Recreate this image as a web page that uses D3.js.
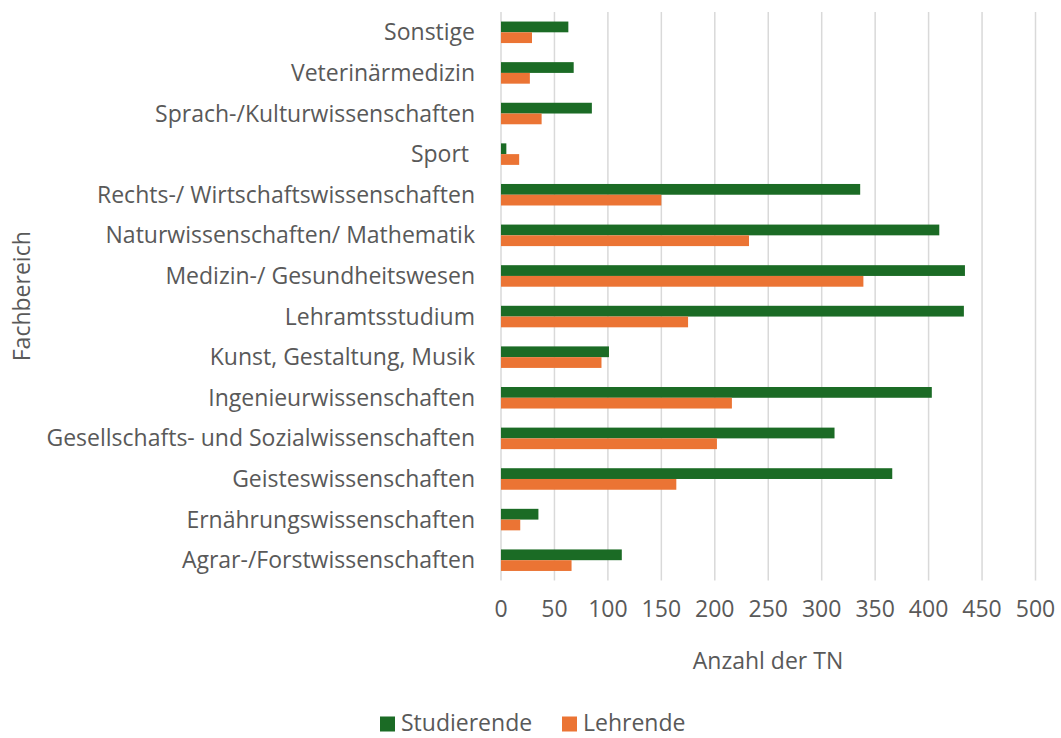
<!DOCTYPE html>
<html>
<head>
<meta charset="utf-8">
<script src="https://cdn.jsdelivr.net/npm/d3@7"></script>
<style>
  body { margin: 0; background: #fff; }
  text { font-family: "Open Sans", "Noto Sans", sans-serif; fill: #595959; white-space: pre; }
</style>
</head>
<body>
<svg id="chart" width="1061" height="738"></svg>
<script>
const categories = [
  "Sonstige",
  "Veterinärmedizin",
  "Sprach-/Kulturwissenschaften",
  "Sport ",
  "Rechts-/ Wirtschaftswissenschaften",
  "Naturwissenschaften/ Mathematik",
  "Medizin-/ Gesundheitswesen",
  "Lehramtsstudium",
  "Kunst, Gestaltung, Musik",
  "Ingenieurwissenschaften",
  "Gesellschafts- und Sozialwissenschaften",
  "Geisteswissenschaften",
  "Ernährungswissenschaften",
  "Agrar-/Forstwissenschaften"
];
const studierende = [63, 68, 85, 5, 336, 410, 434, 433, 101, 403, 312, 366, 35, 113];
const lehrende    = [29, 27, 38, 17, 150, 232, 339, 175, 94, 216, 202, 164, 18, 66];
const xTicks = [0, 50, 100, 150, 200, 250, 300, 350, 400, 450, 500];
const seriesNames = ["Studierende", "Lehrende"];
const seriesColors = ["#1b6b25", "#eb7434"];

const svg = d3.select("svg#chart");
const plotLeft = 501, plotRight = 1035.5, plotTop = 12, plotBottom = 580.5;
const fs = "23px";

const x = d3.scaleLinear().domain([0, 500]).range([plotLeft, plotRight]);
const y = d3.scaleBand().domain(categories).range([plotTop, plotBottom]).paddingInner(0.47).paddingOuter(0.235);
const sub = d3.scaleBand().domain(seriesNames).range([0, y.bandwidth()]);

// gridlines
svg.append("g")
  .selectAll("line")
  .data(xTicks)
  .enter().append("line")
    .attr("x1", d => x(d)).attr("x2", d => x(d))
    .attr("y1", plotTop).attr("y2", plotBottom)
    .attr("stroke", "#d9d9d9")
    .attr("stroke-width", 1.5);

// bars
const rows = categories.map((c, i) => ({cat: c, vals: [studierende[i], lehrende[i]]}));
const grp = svg.append("g").selectAll("g")
  .data(rows)
  .enter().append("g")
    .attr("transform", d => "translate(0," + y(d.cat) + ")");
grp.selectAll("rect")
  .data(d => d.vals.map((v, j) => ({v: v, s: seriesNames[j], c: seriesColors[j]})))
  .enter().append("rect")
    .attr("x", x(0))
    .attr("y", d => sub(d.s))
    .attr("width", d => x(d.v) - x(0))
    .attr("height", sub.bandwidth())
    .attr("fill", d => d.c);

// category labels
svg.append("g")
  .selectAll("text")
  .data(categories)
  .enter().append("text")
    .attr("x", 475)
    .attr("y", d => y(d) + y.bandwidth() / 2)
    .attr("dy", "0.35em")
    .attr("text-anchor", "end")
    .style("font-size", fs)
    .text(d => d);

// x tick labels
svg.append("g")
  .selectAll("text")
  .data(xTicks)
  .enter().append("text")
    .attr("x", d => x(d))
    .attr("y", 609)
    .attr("dy", "0.35em")
    .attr("text-anchor", "middle")
    .style("font-size", fs)
    .text(d => d);

// axis titles
svg.append("text")
  .attr("x", 768)
  .attr("y", 661)
  .attr("dy", "0.35em")
  .attr("text-anchor", "middle")
  .style("font-size", fs)
  .text("Anzahl der TN");

svg.append("text")
  .attr("transform", "translate(22," + (plotTop + plotBottom) / 2 + ") rotate(-90)")
  .attr("dy", "0.35em")
  .attr("text-anchor", "middle")
  .style("font-size", fs)
  .text("Fachbereich");

// legend
const legendX = [380, 562];
const leg = svg.append("g").selectAll("g")
  .data(seriesNames)
  .enter().append("g")
    .attr("transform", (d, i) => "translate(" + legendX[i] + ",723)");
leg.append("rect")
  .attr("x", 0).attr("y", -6.5)
  .attr("width", 15).attr("height", 15)
  .attr("fill", (d, i) => seriesColors[i]);
leg.append("text")
  .attr("x", 21)
  .attr("dy", "0.35em")
  .style("font-size", fs)
  .text(d => d);
</script>
</body>
</html>
